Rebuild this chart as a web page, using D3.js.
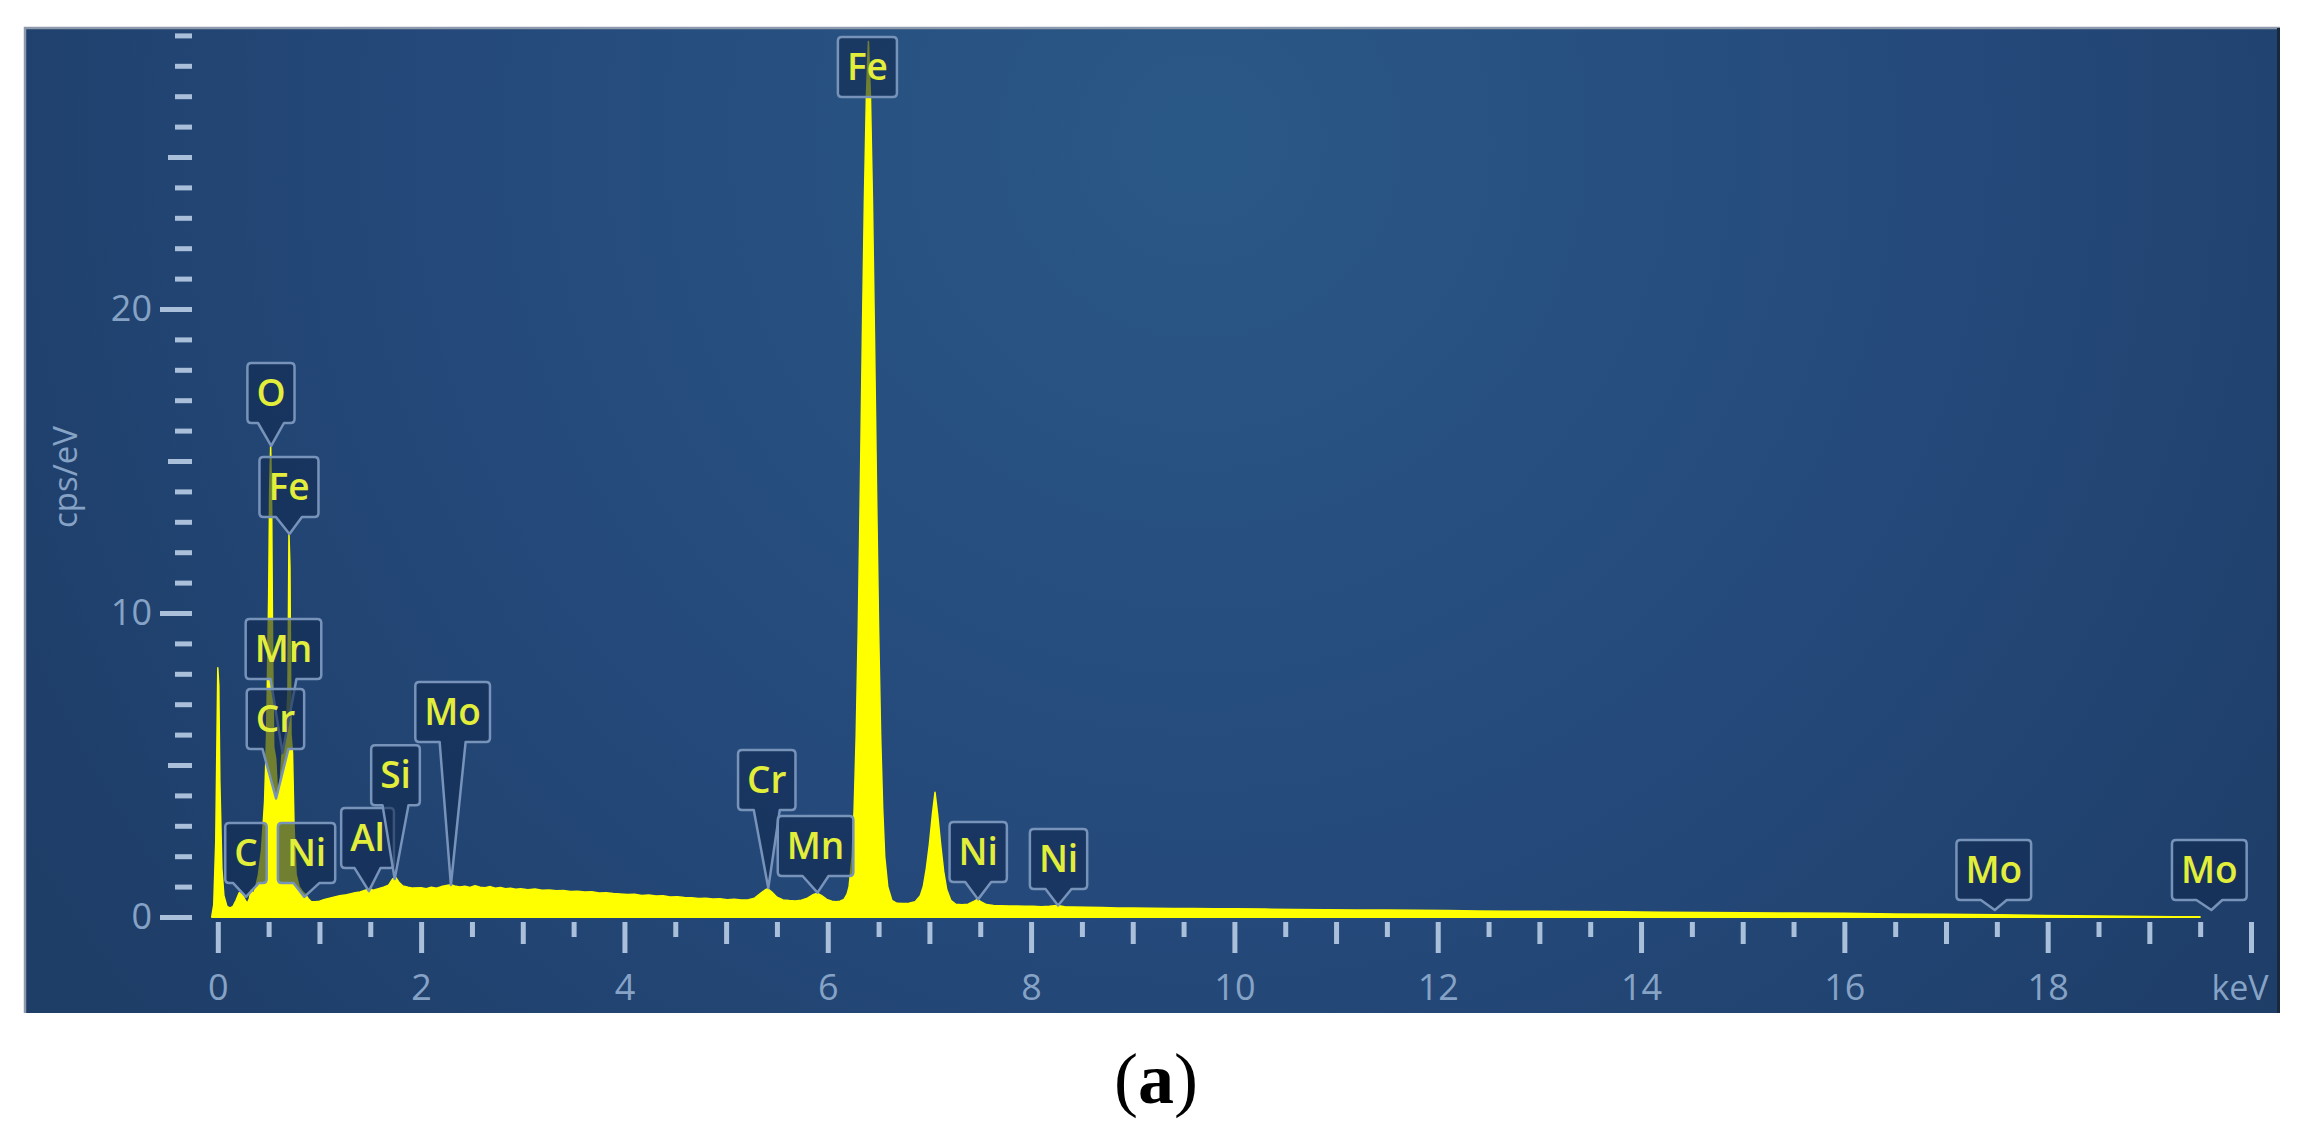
<!DOCTYPE html>
<html><head><meta charset="utf-8">
<script src="https://cdn.jsdelivr.net/npm/d3@7"></script>
<style>body{margin:0;background:#fff}svg{display:block}</style>
</head><body>
<svg id="c" width="2304" height="1144"></svg>
<script>
// ---- data ----
// EDS spectrum: [energy keV, cps/eV]
const spectrum = [
 [-0.06,0],[-0.04,0.4],[-0.02,2.5],[0.00,8.2],[0.01,7.6],[0.02,4.5],[0.04,1.6],[0.06,0.7],[0.09,0.35],
 [0.12,0.3],[0.15,0.35],[0.18,0.55],[0.21,0.8],[0.24,0.75],[0.27,0.55],[0.29,0.45],[0.31,0.6],[0.33,0.9],
 [0.35,0.75],[0.37,0.95],[0.40,1.4],[0.43,2.2],[0.46,3.8],[0.48,6.0],[0.50,10.5],[0.51,14.0],[0.52,15.5],
 [0.53,13.5],[0.54,8.5],[0.55,5.6],[0.57,5.2],[0.585,4.2],[0.60,3.8],[0.615,4.5],[0.63,5.3],[0.65,5.6],
 [0.67,5.8],[0.69,7.5],[0.70,12.6],[0.71,11.5],[0.72,6.0],[0.735,5.4],[0.75,3.0],[0.77,1.4],[0.80,1.0],
 [0.83,0.85],[0.86,0.75],[0.89,0.6],[0.92,0.5],[0.96,0.5],[1.00,0.52],[1.05,0.58],[1.10,0.62],[1.15,0.66],
 [1.20,0.70],[1.25,0.72],[1.30,0.76],[1.35,0.80],[1.40,0.82],[1.45,0.88],[1.49,0.92],[1.53,0.88],[1.58,0.93],
 [1.63,0.98],[1.68,1.05],[1.72,1.25],[1.75,1.30],[1.78,1.15],[1.82,1.02],[1.87,0.98],[1.92,0.95],
 [2.00,0.96],[2.05,0.93],[2.10,0.98],[2.15,0.95],[2.20,1.00],[2.25,1.04],[2.29,1.06],[2.33,1.02],[2.38,0.99],
 [2.43,1.01],[2.48,0.97],[2.53,1.03],[2.58,0.98],[2.63,0.96],[2.68,1.00],[2.73,0.95],[2.78,0.97],[2.83,0.93],
 [2.88,0.95],[2.93,0.91],[2.98,0.93],[3.05,0.90],[3.12,0.92],[3.19,0.88],[3.26,0.89],[3.33,0.86],[3.40,0.87],
 [3.47,0.84],[3.54,0.85],[3.61,0.82],[3.68,0.83],[3.75,0.79],[3.82,0.80],[3.89,0.77],[3.96,0.76],[4.03,0.74],
 [4.10,0.75],[4.17,0.71],[4.24,0.72],[4.31,0.69],[4.38,0.70],[4.45,0.66],[4.52,0.67],[4.59,0.64],[4.66,0.63],
 [4.73,0.61],[4.80,0.62],[4.87,0.59],[4.94,0.60],[5.01,0.57],[5.08,0.58],[5.15,0.56],[5.22,0.57],[5.28,0.62],
 [5.33,0.75],[5.38,0.88],[5.41,0.93],[5.45,0.82],[5.50,0.65],[5.56,0.56],[5.62,0.54],[5.68,0.53],[5.74,0.55],
 [5.80,0.62],[5.86,0.74],[5.90,0.78],[5.94,0.70],[5.99,0.58],[6.04,0.52],[6.08,0.50],[6.12,0.52],[6.16,0.58],
 [6.19,0.75],[6.21,1.0],[6.24,2.0],[6.26,3.6],[6.28,6.0],[6.30,9.5],[6.32,14.0],[6.34,19.0],[6.36,23.5],
 [6.38,27.0],[6.40,28.8],[6.42,27.0],[6.44,23.5],[6.46,19.0],[6.48,14.0],[6.50,9.5],[6.52,6.0],[6.54,3.6],
 [6.56,2.0],[6.59,1.0],[6.63,0.55],[6.68,0.45],[6.74,0.44],[6.80,0.45],[6.86,0.50],[6.91,0.70],[6.94,1.0],
 [6.97,1.6],[7.00,2.4],[7.03,3.4],[7.055,4.1],[7.08,3.4],[7.11,2.4],[7.14,1.5],[7.17,0.9],[7.21,0.55],
 [7.26,0.42],[7.32,0.40],[7.38,0.42],[7.43,0.50],[7.47,0.58],[7.51,0.50],[7.56,0.41],[7.63,0.38],[7.70,0.37],
 [7.78,0.36],[7.86,0.36],[7.94,0.35],[8.02,0.35],[8.10,0.34],[8.18,0.35],[8.26,0.38],[8.33,0.34],[8.42,0.33],
 [8.55,0.32],[8.70,0.31],[8.85,0.30],[9.00,0.30],[9.20,0.29],[9.40,0.28],[9.60,0.28],[9.80,0.27],[10.0,0.27],
 [10.3,0.26],[10.6,0.25],[10.9,0.24],[11.2,0.23],[11.5,0.23],[11.8,0.22],[12.1,0.21],[12.4,0.20],[12.7,0.19],
 [13.0,0.19],[13.4,0.18],[13.8,0.17],[14.2,0.16],[14.6,0.15],[15.0,0.14],[15.5,0.13],[16.0,0.12],[16.5,0.10],
 [17.0,0.09],[17.5,0.07],[18.0,0.05],[18.5,0.03],[19.0,0.015],[19.5,0.0]
];

const xTickValues = [0,2,4,6,8,10,12,14,16,18];
const xTickLabels = ["0","2","4","6","8","10","12","14","16","18"];
const yTickValues = [0,10,20];
const yTickLabels = ["0","10","20"];
const xUnitLabel = "keV";
const yUnitLabel = "cps/eV";
const panelCaption = "a";

// peak labels
const peakNames    = ["O","Fe","Mn","Cr","C","Ni","Al","Si","Mo","Cr","Mn","Ni","Ni","Mo","Mo","Fe"];
const peakEnergies = [0.525,0.705,0.637,0.573,0.277,0.851,1.486,1.740,2.293,5.415,5.899,7.478,8.265,17.48,19.61,6.40];
const peakTipCps   = [15.5,12.6,5.4,3.9,0.66,0.66,0.85,1.25,1.05,0.95,0.80,0.58,0.38,0.23,0.23,28.8];
// callout placement (box centre keV, box bottom cps/eV)
const calloutKeV    = [0.523,0.70,0.646,0.567,0.277,0.873,1.473,1.748,2.31,5.40,5.88,7.48,8.27,17.47,19.59,6.39];
const calloutBottom = [16.25,13.16,7.83,5.53,1.12,1.12,1.61,3.68,5.76,3.52,1.35,1.15,0.92,0.56,0.56,26.97];

// ---- drawing ----
const svg = d3.select("#c");
const defs = svg.append("defs");
const grad = defs.append("radialGradient").attr("id","bg")
  .attr("gradientUnits","userSpaceOnUse").attr("cx",1200).attr("cy",140).attr("r",1400);
grad.append("stop").attr("offset",0).attr("stop-color","#2a5886");
grad.append("stop").attr("offset",0.55).attr("stop-color","#24497a");
grad.append("stop").attr("offset",1).attr("stop-color","#1e3d67");

const P = {x0:25, y0:28, x1:2280, y1:1013};
svg.append("rect").attr("x",P.x0).attr("y",P.y0).attr("width",P.x1-P.x0).attr("height",P.y1-P.y0)
  .attr("fill","url(#bg)");
svg.append("path").attr("d",`M${P.x0},${P.y1} V${P.y0} H${P.x1}`).attr("fill","none")
  .attr("stroke","#8e9aab").attr("stroke-width",2.5);
svg.append("line").attr("x1",P.x1-1.5).attr("x2",P.x1-1.5).attr("y1",P.y0).attr("y2",P.y1)
  .attr("stroke","#17283f").attr("stroke-width",3);

const x = d3.scaleLinear().domain([0,20]).range([217.8,2251]);
const y = d3.scaleLinear().domain([0,29]).range([917,35.4]);

const tickColor = "#a9bfda", labelColor = "#86a3c6", FONT = "'Open Sans', 'Noto Sans', sans-serif";

// y axis: major / medium / minor ticks
const yMid = [5,15,25];
const yMinor = d3.range(1,30).filter(v => v % 5 !== 0);
function yLayer(vals, len, labels){
  const g = svg.append("g").attr("transform","translate(192,0)")
    .call(d3.axisLeft(y).tickValues(vals).tickSize(len).tickPadding(8)
      .tickFormat(labels ? (d,i)=>labels[i] : ""));
  g.select(".domain").remove();
  g.selectAll("line").attr("stroke",tickColor).attr("stroke-width",5);
  g.selectAll("text").attr("fill",labelColor).attr("font-size",36).attr("font-family",FONT);
}
yLayer(yMinor,17,null); yLayer(yMid,24,null); yLayer(yTickValues,32,yTickLabels);

// x axis
const xMid = d3.range(1,20,2);
const xMinor = d3.range(0.5,20,1);
function xLayer(vals, len, labels){
  const g = svg.append("g").attr("transform","translate(0,922)")
    .call(d3.axisBottom(x).tickValues(vals).tickSize(len).tickPadding(21)
      .tickFormat(labels ? (d,i)=>labels[i] : ""));
  g.select(".domain").remove();
  g.selectAll("line").attr("stroke",tickColor).attr("stroke-width",5);
  g.selectAll("text").attr("fill",labelColor).attr("font-size",36).attr("font-family",FONT);
}
xLayer(xMinor,15,null); xLayer(xMid,22,null); xLayer(xTickValues.concat([20]),31,xTickLabels.concat([""]));

svg.append("text").attr("x",2240).attr("y",1000).attr("text-anchor","middle")
  .attr("fill",labelColor).attr("font-size",34).attr("font-family",FONT).text(xUnitLabel);
svg.append("text").attr("transform","translate(77,477) rotate(-90)").attr("text-anchor","middle")
  .attr("fill",labelColor).attr("font-size",33).attr("font-family",FONT).text(yUnitLabel);

// spectrum
const area = d3.area().x(d=>x(d[0])).y0(y(0)).y1(d=>y(d[1]));
svg.append("path").datum(spectrum).attr("d",area)
  .attr("fill","#ffff00").attr("stroke","#ffff00").attr("stroke-width",1.5).attr("stroke-linejoin","round");
svg.append("line").attr("x1",x(-0.06)).attr("x2",x(19.5)).attr("y1",y(0)).attr("y2",y(0))
  .attr("stroke","#ffff00").attr("stroke-width",2);

// callouts
const BOX_H = 60, PAD = 9, HW = 13, R = 4;
peakNames.forEach((name,i)=>{
  const g = svg.append("g");
  const path = g.append("path");
  const cx = x(calloutKeV[i]), yb = y(calloutBottom[i]), yt = yb - BOX_H;
  const t = g.append("text").attr("x",cx).attr("y",yt+43).attr("text-anchor","middle")
    .attr("font-family",FONT).attr("font-weight",600).attr("font-size",37)
    .attr("fill","#e2ee3a").text(name);
  const w = t.node().getComputedTextLength() + 2*PAD;
  const x0 = cx - w/2, x1 = cx + w/2;
  const tx = x(peakEnergies[i]), ty = y(peakTipCps[i]);
  let d = `M${x0+R},${yt} H${x1-R} Q${x1},${yt} ${x1},${yt+R} V${yb-R} Q${x1},${yb} ${x1-R},${yb}`;
  if (ty > yb + 2) d += ` H${cx+HW} L${tx},${ty} L${cx-HW},${yb}`;
  d += ` H${x0+R} Q${x0},${yb} ${x0},${yb-R} V${yt+R} Q${x0},${yt} ${x0+R},${yt} Z`;
  path.attr("d",d).attr("fill","rgba(16,42,80,0.6)").attr("stroke","#7893b9")
    .attr("stroke-width",2.5).attr("stroke-linejoin","round");
});

// caption
const cap = svg.append("text").attr("x",1156).attr("y",1103).attr("text-anchor","middle")
  .attr("font-family","'Liberation Serif', 'DejaVu Serif', serif").attr("font-size",72).attr("fill","#000");
cap.append("tspan").text("(");
cap.append("tspan").attr("font-weight","bold").text(panelCaption);
cap.append("tspan").text(")");
</script>
</body></html>
